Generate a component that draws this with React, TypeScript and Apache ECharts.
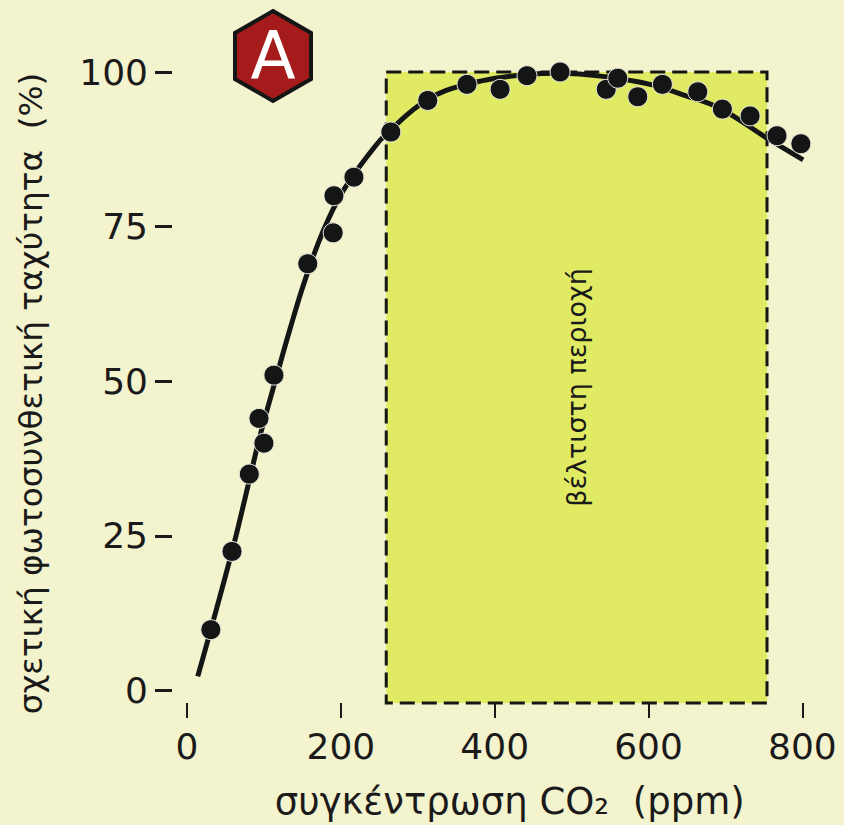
import React, { useEffect, useRef } from "react";
import * as echarts from "echarts";

const pointsX = [31, 58.5, 81, 93.6, 100, 113, 157, 190, 191, 217, 265, 313, 364, 407, 442, 485, 545, 560, 586, 618, 664, 696, 732, 767, 798];
const pointsY = [9.85, 22.5, 35, 44, 40, 51, 69, 74, 80, 83, 90.3, 95.4, 98, 97.2, 99.4, 100, 97.2, 99, 96, 98, 96.8, 94, 92.9, 89.7, 88.4];
const curveX = [14, 58.5, 81, 95, 118, 134, 153, 177, 203, 242, 260, 312, 364, 442, 485, 546, 602, 645, 693, 754, 801];
const curveY = [2.3, 22.5, 34, 41.2, 51.5, 58.5, 66.2, 74.3, 80.8, 87.6, 90.1, 95.5, 98, 99.6, 99.8, 99.2, 98, 96.3, 94.1, 89.3, 85.8];
const xTicks = [0, 200, 400, 600, 800];
const yTicks = [0, 25, 50, 75, 100];
const optimalBand = [259, 754];
const bandBottom = -2;
const bandTop = 100;
const xTitle = "συγκέντρωση CO₂  (ppm)";
const yTitle = "σχετική φωτοσυνθετική ταχύτητα  (%)";
const bandLabel = "βέλτιστη περιοχή";
const badge = "A";

const FONT = "'DejaVu Sans'";
const INK = "#1a1a1a";

export default function App() {
  const ref = useRef<HTMLDivElement>(null);
  useEffect(() => {
    const chart = echarts.init(ref.current!, null, { renderer: "svg" });
    chart.setOption({
      animation: false,
      backgroundColor: "#f3f3ce",
      grid: { left: 187, right: 41.6, top: 72, bottom: 122, outerBoundsMode: "none" },
      xAxis: {
        type: "value",
        min: 0,
        max: 800,
        name: xTitle,
        nameLocation: "middle",
        nameGap: 80,
        nameTextStyle: { fontFamily: FONT, fontSize: 37, color: INK, padding: [0, 0, 0, 30] },
        splitLine: { show: false },
        axisLine: { show: false, onZero: false },
        axisTick: { show: true, length: 15, customValues: xTicks, lineStyle: { color: INK, width: 2 } },
        axisLabel: { customValues: xTicks, fontFamily: FONT, fontSize: 36, color: INK, margin: 25 },
      },
      yAxis: {
        type: "value",
        min: bandBottom,
        max: 100,
        offset: 15,
        name: yTitle,
        nameLocation: "middle",
        nameGap: 125,
        nameTextStyle: { fontFamily: FONT, fontSize: 32.7, color: INK, padding: [0, 12, 0, 0] },
        splitLine: { show: false },
        axisLine: { show: false, onZero: false },
        axisTick: { show: true, length: 17, customValues: yTicks, lineStyle: { color: INK, width: 3 } },
        axisLabel: { customValues: yTicks, fontFamily: FONT, fontSize: 36, color: INK, margin: 24 },
      },
      series: [
        {
          type: "line",
          smooth: 0.4,
          clip: false,
          showSymbol: false,
          z: 3,
          lineStyle: { color: "#141616", width: 5 },
          data: curveX.map((x, i) => [x, curveY[i]]),
          markArea: {
            silent: true,
            z: 1,
            itemStyle: {
              color: "#e0ea63",
              borderColor: "#141616",
              borderWidth: 3,
              borderType: [15, 7],
            },
            label: {
              show: true,
              position: "inside",
              rotate: 90,
              formatter: bandLabel,
              fontFamily: FONT,
              fontSize: 27,
              color: INK,
            },
            data: [[
              { xAxis: optimalBand[0], yAxis: bandTop },
              { xAxis: optimalBand[1], yAxis: bandBottom },
            ]],
          },
        },
        {
          type: "scatter",
          clip: false,
          symbolSize: 20,
          z: 4,
          itemStyle: { color: "#141616", opacity: 1, borderColor: "#e6e6dc", borderWidth: 1 },
          data: pointsX.map((x, i) => [x, pointsY[i]]),
        },
      ],
      graphic: [
        {
          type: "polygon",
          z: 10,
          shape: { points: [[273, 11], [311, 33], [311, 79], [273, 101], [235, 79], [235, 33]] },
          style: { fill: "#a51a1a", stroke: "#141616", lineWidth: 4 },
        },
        {
          type: "text",
          z: 11,
          x: 273,
          y: 55,
          style: { text: badge, fill: "#ffffff", font: `66px ${FONT}`, textAlign: "center", textVerticalAlign: "middle" },
        },
      ],
    });
    return () => chart.dispose();
  }, []);
  return <div ref={ref} style={{ position: "absolute", left: 0, top: 0, width: 844, height: 825 }} />;
}
